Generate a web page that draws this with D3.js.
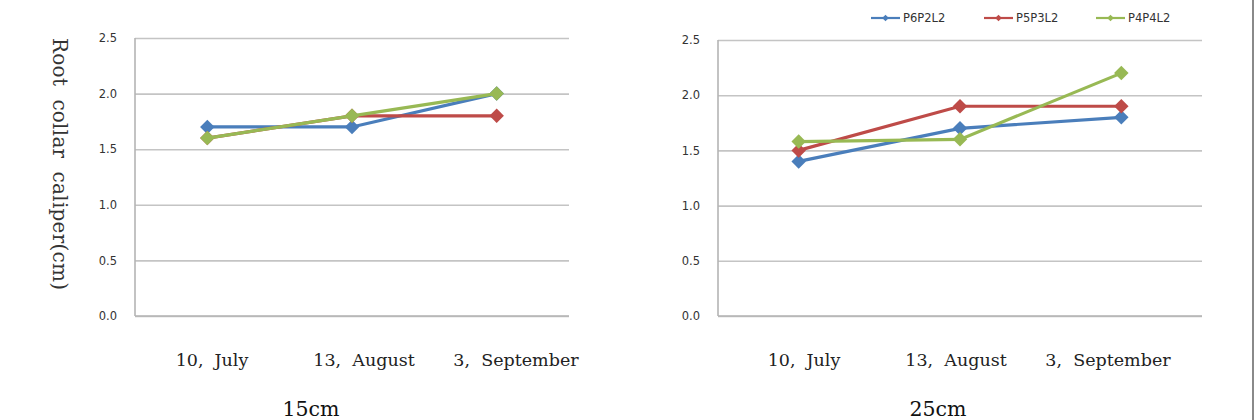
<!DOCTYPE html>
<html>
<head>
<meta charset="utf-8">
<script src="https://cdn.jsdelivr.net/npm/d3@7"></script>
<style>
  html, body { margin: 0; padding: 0; background: #fff; }
  svg { display: block; }
</style>
</head>
<body>
<svg id="chart" width="1258" height="420"></svg>
<script>
// data
const dates = ["10,  July", "13,  August", "3,  September"];
const seriesNames = ["P6P2L2", "P5P3L2", "P4P4L2"];
const colors = ["#4a7ebb", "#be4b48", "#98b954"];
const yTicks = [0, 0.5, 1.0, 1.5, 2.0, 2.5];

// 15cm panel
const p15_P6P2L2 = [1.7, 1.7, 2.0];
const p15_P5P3L2 = [1.6, 1.8, 1.8];
const p15_P4P4L2 = [1.6, 1.8, 2.0];

// 25cm panel
const p25_P6P2L2 = [1.4, 1.7, 1.8];
const p25_P5P3L2 = [1.5, 1.9, 1.9];
const p25_P4P4L2 = [1.58, 1.6, 2.2];

const svg = d3.select("#chart");
const serif = "'DejaVu Serif', 'Liberation Serif', serif";
const sans = "'DejaVu Sans', 'Liberation Sans', sans-serif";

function drawPanel(opts) {
  const g = svg.append("g").attr("class", "panel");
  const x = d3.scaleBand().domain(dates).range([opts.left, opts.right]);
  const y = d3.scaleLinear().domain([0, 2.5]).range([316, opts.top]);

  // grid + tick labels
  const yAxis = g.append("g")
    .attr("transform", `translate(${opts.left},0)`)
    .call(d3.axisLeft(y).tickValues(yTicks).tickFormat(d3.format(".1f"))
      .tickSize(-(opts.right - opts.left)).tickPadding(18));
  yAxis.select(".domain").remove();
  yAxis.selectAll(".tick line").attr("stroke", "#c4c4c4").attr("stroke-width", 1.6);
  yAxis.selectAll(".tick text")
    .attr("font-family", sans).attr("font-size", 11.5).attr("fill", "#333");

  // axis lines
  g.append("line")
    .attr("x1", opts.left).attr("x2", opts.left)
    .attr("y1", y(2.5)).attr("y2", y(0))
    .attr("stroke", "#b4b4b4").attr("stroke-width", 1.6);
  g.append("line")
    .attr("x1", opts.left).attr("x2", opts.right)
    .attr("y1", y(0)).attr("y2", y(0))
    .attr("stroke", "#b4b4b4").attr("stroke-width", 1.6);

  // x labels (spaced a little wider than the bands, as in the source)
  const xl = d3.scalePoint().domain(dates).range(opts.labelRange);
  g.selectAll(".xlab").data(dates).join("text")
    .attr("class", "xlab")
    .attr("x", (d) => xl(d))
    .attr("y", 366)
    .attr("text-anchor", "middle")
    .attr("font-family", serif).attr("font-size", 17.5)
    .attr("fill", "#222")
    .attr("xml:space", "preserve")
    .text((d) => d);

  // panel caption
  g.append("text")
    .attr("x", opts.captionX).attr("y", 416)
    .attr("text-anchor", "middle")
    .attr("font-family", serif).attr("font-size", 20.5)
    .attr("fill", "#111")
    .text(opts.caption);

  const line = d3.line()
    .x((d, i) => x(dates[i]) + x.bandwidth() / 2)
    .y((d) => y(d));
  const diamond = d3.symbol().type(d3.symbolSquare).size(105);

  opts.series.forEach((vals, s) => {
    const sg = g.append("g").attr("class", "series");
    sg.append("path")
      .datum(vals)
      .attr("d", line)
      .attr("fill", "none")
      .attr("stroke", colors[s])
      .attr("stroke-width", 3.2);
    sg.selectAll("path.mk").data(vals).join("path")
      .attr("class", "mk")
      .attr("d", diamond)
      .attr("transform", (d, i) =>
        `translate(${x(dates[i]) + x.bandwidth() / 2},${y(d)}) rotate(45)`)
      .attr("fill", colors[s]);
  });
  return g;
}

drawPanel({
  left: 135, right: 569, top: 38,
  labelRange: [212, 516],
  caption: "15cm", captionX: 311,
  series: [p15_P6P2L2, p15_P5P3L2, p15_P4P4L2]
});

drawPanel({
  left: 718, right: 1202, top: 40,
  labelRange: [804, 1108],
  caption: "25cm", captionX: 938,
  series: [p25_P6P2L2, p25_P5P3L2, p25_P4P4L2]
});

// y axis title
svg.append("text")
  .attr("transform", "translate(53,38) rotate(90)")
  .attr("font-family", serif).attr("font-size", 20)
  .attr("fill", "#333")
  .attr("xml:space", "preserve")
  .attr("textLength", 252).attr("lengthAdjust", "spacing")
  .text("Root  collar  caliper(cm)");

// legend
const legend = svg.append("g").attr("class", "legend");
const legendX = [871, 984, 1096];
seriesNames.forEach((name, i) => {
  const lg = legend.append("g").attr("transform", `translate(${legendX[i]},18)`);
  lg.append("line").attr("x1", 0).attr("x2", 29)
    .attr("stroke", colors[i]).attr("stroke-width", 2.2);
  lg.append("path")
    .attr("d", d3.symbol().type(d3.symbolSquare).size(22))
    .attr("transform", "translate(14.5,0) rotate(45)")
    .attr("fill", colors[i]);
  lg.append("text").attr("x", 32).attr("y", 4)
    .attr("font-family", sans).attr("font-size", 11.5)
    .attr("fill", "#333")
    .text(name);
});

// right frame edge
svg.append("line")
  .attr("x1", 1253).attr("x2", 1253).attr("y1", 0).attr("y2", 420)
  .attr("stroke", "#8a8a8a").attr("stroke-width", 2);
</script>
</body>
</html>
